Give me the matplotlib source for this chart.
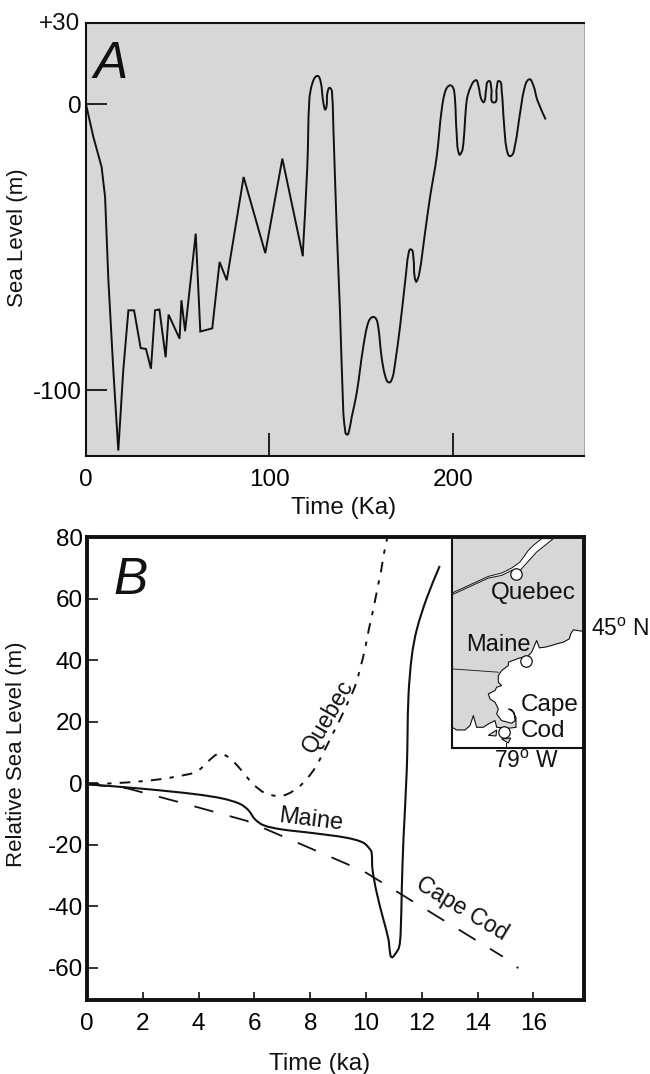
import matplotlib
matplotlib.use("Agg")
import numpy as np
import matplotlib.pyplot as plt
from matplotlib.patches import Polygon, PathPatch
from matplotlib.path import Path

plt.rcParams['font.family'] = ['Liberation Sans', 'DejaVu Sans']
plt.rcParams['mathtext.fontset'] = 'custom'
plt.rcParams['mathtext.rm'] = 'Liberation Sans'

W, H = 650, 1074
GRAY = '#d7d7d7'
INK = '#111111'

# Panel A
a_time = [0, 4, 8.5, 10.4, 12.2, 14.9, 17.6, 20.3, 23.1, 26.2, 29.8, 32.7, 35.4, 37.6, 40, 43.4, 45, 51, 52, 54,
          59.8, 62.3, 68.8, 72.8, 76.7, 85.9, 97.7, 107, 118.1]
a_level = [0, -11.4, -21.9, -32.4, -61.5, -93, -121, -93, -72, -72, -85.2, -85.5, -92.4, -72, -71.7, -88.4, -73.5,
           -81.9, -68.5, -79.3, -45.2, -79.4, -78.3, -55.1, -61.5, -25.4, -52, -19, -52.8]
a2_time = [118.1, 120.6, 121.7, 123.3, 126, 127.9, 129.3, 130.6,
           131.5, 133, 134.2, 134.8, 136.6, 138.4, 140.2, 141.1, 142.2, 143.5, 144.8, 147.5, 151.1, 153.9, 156.6,
           158.8, 161.1, 163, 165.1, 167.1, 168.4, 171.1, 174.4, 175.6, 177.1, 178.4, 179.7, 181.6, 184.7, 187.5,
           191.1, 193.8, 196, 198.7,
           200.7, 202, 203.4, 205.3, 207.5, 209.6, 212.4, 213.8, 215.3, 216.9, 218, 219.5, 220.9, 222.3, 223.8,
           225.2, 226.5, 227.8, 229.2, 231.4, 233.8, 236.5, 238.7, 241.4, 243.8, 246, 250.5]
a2_level = [-52.8, -21.9, 1.4, 7.2, 9.9,
            7.8, 0.8, -1.7, 3.7, 5.7, 2.6, -7.9, -42.9, -72, -107, -113.3, -115.4, -113.7, -109.3, -101, -84.8,
            -76.1, -74.3, -76.1, -88.4, -94.8, -97.2, -95.3, -90.7, -77.9, -59.2, -52.8, -50.7, -53.4, -61.8, -59.2,
            -45.2, -32.4, -18.4, -2.1,
            4.9, 6.6, 4.3, -10.2, -17.5, -15.5, 1.4, 6, 8.4, 6.6, 2, 0.8, 4.9, 8.1, 5.5, 0.6, 5.5, 8.1, 4.9, -6.7,
            -15.5, -18.1, -14.3, -3.3, 4.9, 8.7, 6.6, 1.4, -5.3]
a_xticks = [100, 200]
a_xticklabels = ['100', '200']
a_yticks = [0, -100]
a_yticklabels = ['0', '-100']

# Panel B
quebec_time = [0.05, 0.93, 1.9, 2.6, 3.33, 3.93, 4.35, 4.65, 4.83, 5.06, 5.4, 5.96, 6.38, 6.8, 7.16, 7.63, 8.1,
               8.41, 8.77, 9.07, 9.37, 9.61, 9.78, 9.96, 10.1, 10.26, 10.4, 10.53, 10.65, 10.76]
quebec_level = [-0.3, 0, 0.6, 1.3, 2.4, 3.8, 7.2, 9.4, 9.5, 8.5, 5.6, -0.3, -3.2, -4.1, -3.6, -0.9, 4, 8.9, 15.4,
                20.8, 26.7, 31.6, 37, 43.5, 50, 56.5, 63, 68.6, 75, 79.8]
maine_time = [0, 2.14, 3.93, 4.88, 5.48, 5.78, 6.02, 6.32, 6.92, 8.11, 9.3, 9.9, 10.14, 10.2, 10.23, 10.38, 10.62,
              10.8, 10.86, 10.92, 11.04, 11.18, 11.24, 11.28, 11.34, 11.46, 11.52, 11.64, 11.82, 12.18, 12.64]
maine_level = [-0.3, -1.9, -3.6, -5, -6.7, -8.7, -11.7, -13.6, -14.9, -16.2, -17.7, -19.3, -21.4, -22.5, -27.9,
               -35.5, -44.2, -50.6, -55, -56.5, -55.5, -53.3, -48.5, -34.4, -18.2, 4.5, 28.3, 41.3, 50, 60.3, 70.6]
cape_time = [0, 1.42, 3.33, 5.72, 9.9, 14.9]
cape_level = [-0.3, -1.6, -6.2, -12.2, -28.5, -56.3]
cape_end_time = [15.4]
cape_end_level = [-59.7]
b_xticks = [0, 2, 4, 6, 8, 10, 12, 14, 16]
b_yticks = [80, 60, 40, 20, 0, -20, -40, -60]

# Inset map outlines (map units)
land_x = [432, 400, 392, 388, 370, 350, 335, 315, 298, 290, 275, 262, 240, 205, 205, 185, 175, 175, 185, 170, 165,
          145, 150, 165, 175, 170, 185, 215, 225, 222, 205, 215, 228, 228, 205, 170, 165, 145, 130, 110, 100, 90,
          75, 50, 36, 36, 432]
land_y = [303, 298, 310, 325, 335, 340, 345, 350, 352, 330, 365, 378, 382, 395, 405, 420, 435, 455, 465, 470, 480,
          490, 505, 515, 535, 550, 570, 578, 570, 545, 535, 537, 560, 590, 593, 590, 570, 580, 590, 590, 555, 585,
          598, 598, 590, 25, 25]
river_x = [305, 340, 290, 240, 215, 185, 145, 36, 36, 145, 185, 215, 240, 265, 280]
river_y = [25, 25, 65, 120, 120, 135, 143, 193, 188, 138, 128, 113, 95, 60, 45]
border_x = [36, 175]
border_y = [415, 425]
island1_x = [145, 170, 168]
island1_y = [614, 598, 616]
island2_x = [185, 212, 205]
island2_y = [625, 622, 637]
cities_x = [228, 258, 193]
cities_y = [130, 390, 605]


def box(l, t, r, b):
    return [l / W, 1 - b / H, (r - l) / W, (b - t) / H]


def label(x, y, s, **kw):
    kw.setdefault('fontsize', 17.5)
    kw.setdefault('ha', 'center')
    kw.setdefault('va', 'center')
    fig.text(x / W, 1 - y / H, s, color=INK, **kw)


def curve(ax, xs, ys, **kw):
    """Stroke a rounded line through the data points (Bezier handles only)."""
    p = ax.transData.transform(np.column_stack([xs, ys]))
    d = np.gradient(p, axis=0)
    d /= np.maximum(np.linalg.norm(d, axis=1, keepdims=True), 1e-9)
    seg = np.linalg.norm(np.diff(p, axis=0), axis=1, keepdims=True)
    verts = [p[0]]
    for i in range(len(seg)):
        verts += [p[i] + d[i] * seg[i] / 3, p[i + 1] - d[i + 1] * seg[i] / 3, p[i + 1]]
    verts = ax.transData.inverted().transform(np.array(verts))
    codes = [Path.MOVETO] + [Path.CURVE4] * (len(verts) - 1)
    ax.add_patch(PathPatch(Path(verts, codes), fc='none', ec=INK, capstyle='butt', **kw))


fig = plt.figure(figsize=(W / 100, H / 100), dpi=100)

# ---------- A ----------
axa = fig.add_axes(box(86, 23, 584, 456))
axa.set_facecolor(GRAY)
axa.set_xlim(0, 271.4)
axa.set_ylim(-122.9, 28.4)
axa.plot(a_time, a_level, color=INK, lw=1.4, solid_joinstyle='miter')
curve(axa, a2_time, a2_level, lw=1.4)
axa.set_xticks([0] + a_xticks, ['0'] + a_xticklabels)
axa.set_yticks(a_yticks, a_yticklabels)
axa.tick_params(axis='x', direction='in', length=16.5, width=1.3, pad=9.5, labelsize=17.5, color=INK)
axa.tick_params(axis='y', direction='in', length=15, width=1.3, pad=3, labelsize=17.5, color=INK)
axa.xaxis.get_major_ticks()[0].tick1line.set_visible(False)
for sp in axa.spines.values():
    sp.set_linewidth(1.5)
    sp.set_color(INK)
axa.spines['right'].set_linewidth(0.6)
axa.spines['right'].set_color('#999999')
label(80, 24, '+30', ha='right')
label(111, 64, 'A', fontsize=37, style='italic')
label(18, 238, 'Sea Level (m)', rotation=90, fontsize=16)
label(344, 508, 'Time (Ka)')

# ---------- inset map ----------
axm = fig.add_axes(box(452, 537, 584, 748), zorder=1)
axm.set_xlim(36, 432)
axm.set_ylim(652, 20)
axm.set_xticks([])
axm.set_yticks([])
for sp in axm.spines.values():
    sp.set_linewidth(1.5)
    sp.set_color(INK)
axm.add_patch(Polygon(list(zip(land_x, land_y)), closed=True, fc=GRAY, ec='none'))
axm.plot(land_x[:-2], land_y[:-2], color=INK, lw=0.8)
axm.add_patch(Polygon(list(zip(river_x, river_y)), closed=True, fc='white', ec=INK, lw=0.7))
axm.plot(border_x, border_y, color=INK, lw=0.6)
axm.add_patch(Polygon(list(zip(island1_x, island1_y)), closed=True, fc=GRAY, ec=INK, lw=0.8))
axm.add_patch(Polygon(list(zip(island2_x, island2_y)), closed=True, fc=GRAY, ec=INK, lw=0.8))
axm.plot([198, 198], [637, 652], color=INK, lw=0.7)
axm.scatter(cities_x, cities_y, s=68, fc='white', ec=INK, lw=0.9, zorder=5)

# ---------- B ----------
axb = fig.add_axes(box(87, 537, 584, 1000), zorder=2)
axb.patch.set_visible(False)
axb.set_xlim(0, 17.81)
axb.set_ylim(-70.4, 80)
curve(axb, quebec_time, quebec_level, lw=1.4, linestyle=(0, (5.5, 4.2, 2.2, 4.2)))
curve(axb, maine_time, maine_level, lw=1.5)
axb.plot(cape_time, cape_level, color=INK, lw=1.3, dashes=(10.9, 9.4), dash_capstyle='butt')
axb.plot(cape_end_time, cape_end_level, 'o', color=INK, ms=1.6, mew=0)
axb.set_xticks(b_xticks)
axb.set_yticks(b_yticks, [str(v) for v in b_yticks])
axb.tick_params(axis='x', direction='in', length=6, width=1.2, pad=9, labelsize=17.5, color=INK)
axb.tick_params(axis='y', direction='in', length=8, width=1.2, pad=3, labelsize=17.5, color=INK)
axb.xaxis.get_major_ticks()[0].tick1line.set_visible(False)
for sp in axb.spines.values():
    sp.set_linewidth(2.8)
    sp.set_color(INK)
label(131, 580, 'B', fontsize=37, style='italic')
label(17, 754, 'Relative Sea Level (m)', rotation=90, fontsize=16)
label(320, 1064, 'Time (ka)')
label(328, 716, 'Quebec', rotation=60, fontsize=16.5)
label(311, 820, 'Maine', rotation=-7, fontsize=17)
label(462, 909, 'Cape Cod', rotation=-31, fontsize=16.5)
label(533, 593, 'Quebec')
label(498, 645, 'Maine', fontsize=17)
label(550, 705, 'Cape')
label(543, 731, 'Cod')
label(620, 630, r'45$^{\mathrm{o}}$ N', fontsize=16.5)
label(527, 762, r'79$^{\mathrm{o}}$ W', fontsize=16.5)

fig.savefig('out.png', dpi=100)
